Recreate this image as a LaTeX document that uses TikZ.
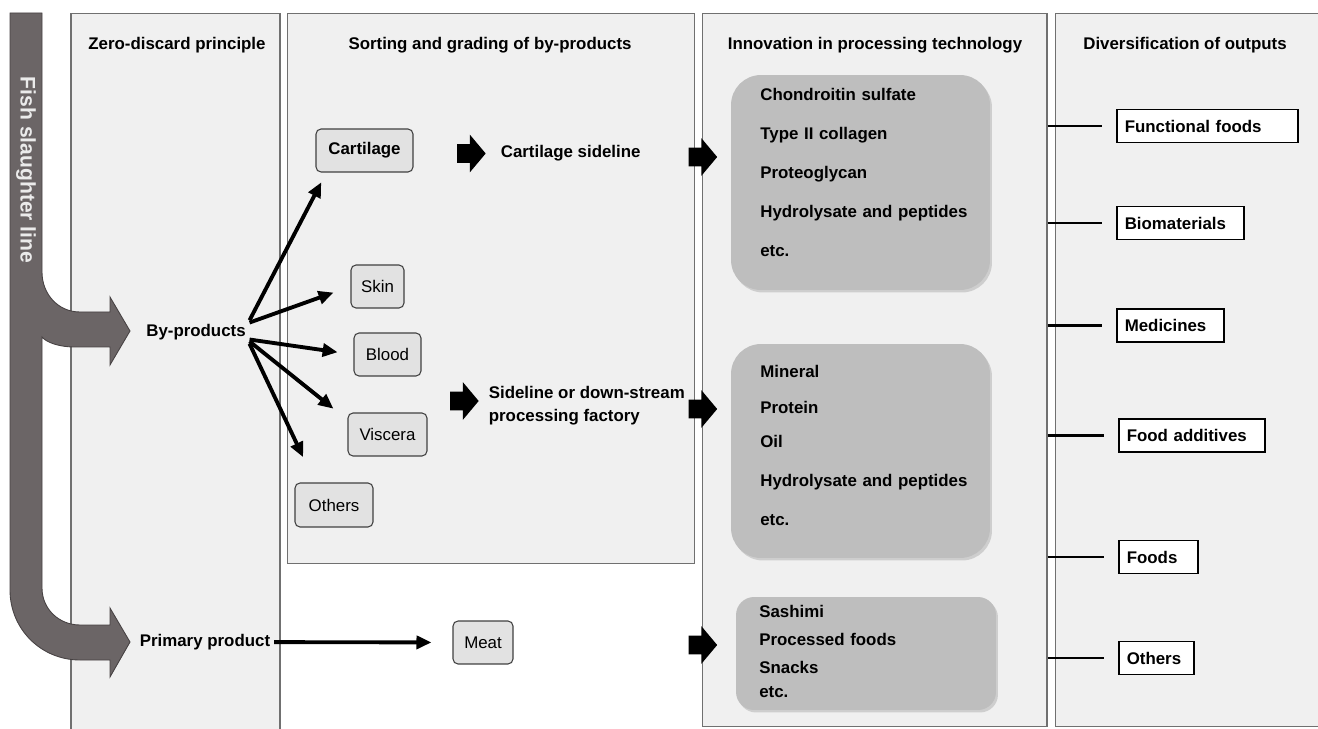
\documentclass[tikz,border=0pt]{standalone}
\usepackage{fontspec}
\setmainfont{Liberation Sans}
\usetikzlibrary{calc,arrows.meta,shapes.arrows,shadows}

\definecolor{panelgray}{HTML}{F0F0F0}
\definecolor{paneledge}{HTML}{707070}
\definecolor{linegray}{HTML}{6B6566}
\definecolor{lineedge}{HTML}{474243}
\definecolor{taggray}{HTML}{E2E2E2}
\definecolor{techgray}{HTML}{BEBEBE}

\tikzset{
  panel/.style={fill=panelgray, draw=paneledge, line width=0.6pt, inner sep=0pt},
  head/.style={font=\fontsize{9.6}{11.5}\selectfont\bfseries},
  lbl/.style={font=\fontsize{9.6}{11.5}\selectfont\bfseries, inner sep=2pt},
  tag/.style={draw=black!75, fill=taggray, rounded corners=0.1cm, line width=0.6pt, minimum height=0.86cm, inner sep=0pt, font=\fontsize{9.6}{11.5}\selectfont},
  techbox/.style={fill=techgray, rounded corners=0.6cm, inner sep=0pt, drop shadow={opacity=0.3, shadow xshift=0.04cm, shadow yshift=-0.05cm}},
  techlist/.style={anchor=north west, inner sep=0pt, align=left, text width=4.3cm},
  outbox/.style={draw=black, fill=white, line width=0.9pt, anchor=west, minimum height=0.66cm, inner xsep=0.16cm, align=left, font=\fontsize{9.6}{11.5}\selectfont\bfseries},
  outln/.style={line width=1.4pt, shorten >=0.28cm},
  blk/.style={single arrow, fill=black, inner xsep=0pt, inner ysep=0.18cm, minimum height=0.57cm, minimum width=0.74cm, single arrow head extend=0.19cm, single arrow tip angle=100},
  sort/.style={-{Triangle[length=0.3cm,width=0.26cm]}, line width=2.2pt},
}

\begin{document}
\begin{tikzpicture}[x=0.02cm, y=-0.02cm]
	%%%%% START %%%%%
	\useasboundingbox (0,0) rectangle (1318,729);
	\clip (0,0) rectangle (1318,729);
	
	\node[panel, minimum width=4.18cm, minimum height=14.54cm] (p1) at (175.5,376.5) {};
	\node[panel, minimum width=8.16cm, minimum height=11.02cm] (p2) at (491,288.5) {};
	\node[panel, minimum width=6.9cm, minimum height=14.28cm] (p3) at (874.5,370) {};
	\node[panel, minimum width=5.5cm, minimum height=14.28cm] (p4) at (1192.5,370) {};
	
	\node[head] (h1) at (177,45) {Zero-discard principle};
	\node[head] (h2) at (490,45) {Sorting and grading of by-products};
	\node[head] (h3) at (875,45) {Innovation in processing technology};
	\node[head] (h4) at (1185,45) {Diversification of outputs};
	
	% slaughter line with its two branches
	\draw[fill=linegray, draw=lineedge, line width=0.5pt] (10,13) -- (42,13) -- (42,272)
		.. controls (42,294) and (58,312) .. (80,312) -- (110,312) -- (110,297) -- (130,331) -- (110,365) -- (110,347) -- (75,347)
		.. controls (58,347) and (46,342) .. (42,337) -- (42,588)
		.. controls (42,609) and (59,625) .. (80,625) -- (110,625) -- (110,608) -- (130,642) -- (110,677) -- (110,660) -- (80,660)
		.. controls (41,660) and (10,629) .. (10,590) -- cycle;
	\node[rotate=-90, text=white!92!black, font=\fontsize{12}{14}\selectfont\bfseries] (fsl) at (26,170) {Fish slaughter line};
	
	\node[lbl] (byp) at (196,332) {By-products};
	\node[lbl] (prim) at (205,642) {Primary product};
	
	\node[tag, minimum width=1.94cm, font=\fontsize{9.6}{11.5}\selectfont\bfseries] (cart) at (364.5,150.5) {Cartilage};
	\node[tag, minimum width=1.06cm] (skin) at (377.5,286.5) {Skin};
	\node[tag, minimum width=1.34cm] (blood) at (387.5,354.5) {Blood};
	\node[tag, minimum width=1.58cm] (visc) at (387.5,434.5) {Viscera};
	\node[tag, minimum width=1.56cm, minimum height=0.88cm] (oth) at (334,505) {Others};
	\node[tag, minimum width=1.2cm] (meat) at (483,642.5) {Meat};
	
	\draw[sort, shorten >=0.22cm] (byp.north east) -- (cart.210);
	\draw[sort, shorten >=0.36cm] (byp.10) -- (skin.west);
	\draw[sort, shorten >=0.32cm] (byp.-8) -- (blood.west);
	\draw[sort, shorten >=0.36cm] (byp.-10) -- (visc.160);
	\draw[sort, shorten >=0.56cm] (byp.south east) -- (oth.130);
	\draw[sort, shorten >=0.42cm] (prim) -- (meat);
	
	\node[lbl, anchor=west] (cside) at (497,153) {Cartilage sideline};
	\node[lbl, anchor=west, align=left, font=\fontsize{9.6}{13.1}\selectfont\bfseries] (dside) at (485,405.5) {Sideline or down-stream\\processing factory};
	
	\node[blk] (ba1) at (467.5,153.5) {};
	\node[blk] (ba2) at (460.5,401) {};
	\node[blk] (ba3) at (699,157) {};
	\node[blk] (ba4) at (699,409) {};
	\node[blk] (ba5) at (699,645) {};
	
	\node[techbox, minimum width=5.18cm, minimum height=4.3cm] (tb1) at (860.5,182.5) {};
	\node[techbox, minimum width=5.18cm, minimum height=4.28cm] (tb2) at (860.5,451) {};
	\node[techbox, minimum width=5.2cm, minimum height=2.26cm, rounded corners=0.36cm] (tb3) at (866,653.5) {};
	
	\node[techlist, font=\fontsize{9.6}{22.2}\selectfont\bfseries] (tl1) at (760,88) {Chondroitin sulfate\\Type II collagen\\Proteoglycan\\Hydrolysate and peptides\\etc.};
	\node[techlist, font=\fontsize{9.6}{19.35}\selectfont\bfseries] (tl2) at (760,365) {Mineral\\[0.04cm]Protein\\Oil\\[0.1cm]Hydrolysate and peptides\\[0.1cm]etc.};
	\node[techlist, font=\fontsize{9.6}{13.66}\selectfont\bfseries] (tl3) at (759,605) {Sashimi\\[0.08cm]Processed foods\\[0.08cm]Snacks\\etc.};
	
	\node[outbox, text width=3.30cm] (ffood) at (1116,126) {Functional foods};
	\node[outbox, text width=2.22cm] (biomat) at (1116,223) {Biomaterials};
	\node[outbox, text width=1.82cm] (medic) at (1116,325.5) {Medicines};
	\node[outbox, text width=2.60cm] (fadd) at (1118,435.5) {Food additives};
	\node[outbox, text width=1.26cm] (foods) at (1118,557) {Foods};
	\node[outbox, text width=1.18cm] (oth2) at (1118,658) {Others};
	
	\draw[outln] (p3.east |- ffood.west) -- (ffood.west);
	\draw[outln] (p3.east |- biomat.west) -- (biomat.west);
	\draw[outln] (p3.east |- medic.west) -- (medic.west);
	\draw[outln] (p3.east |- fadd.west) -- (fadd.west);
	\draw[outln] (p3.east |- foods.west) -- (foods.west);
	\draw[outln] (p3.east |- oth2.west) -- (oth2.west);
	%%%%% END %%%%%
\end{tikzpicture}
\end{document}
